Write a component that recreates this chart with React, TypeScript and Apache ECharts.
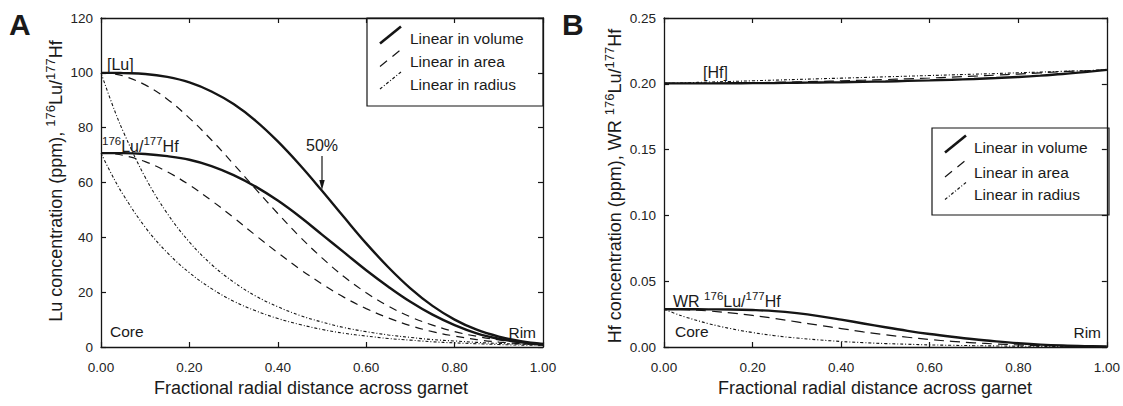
import React, { useEffect, useRef } from "react";
import * as echarts from "echarts";

// Fractional radial distance (shared x positions)
const t = [0, 0.025, 0.05, 0.1, 0.15, 0.2, 0.25, 0.3, 0.35, 0.4, 0.45, 0.5, 0.55, 0.6, 0.65, 0.7, 0.75, 0.8, 0.85, 0.9, 0.95, 1.0];

// Panel A: Lu concentration (ppm)
const luVolume = [100, 100, 99.9, 99.6, 98.5, 96.5, 93.2, 88.6, 82.5, 75.0, 66.4, 57.0, 47.3, 37.8, 29.1, 21.4, 15.0, 10.0, 6.3, 3.8, 2.1, 1.1];
const luArea = [100, 99.7, 98.9, 95.6, 90.4, 83.5, 75.5, 66.7, 57.6, 48.7, 40.2, 32.5, 25.6, 19.8, 14.9, 11.0, 8.0, 5.6, 3.9, 2.6, 1.7, 1.1];
const luRadius = [100, 88.7, 78.7, 61.9, 48.7, 38.3, 30.1, 23.7, 18.6, 14.7, 11.5, 9.1, 7.1, 5.6, 4.4, 3.5, 2.7, 2.2, 1.7, 1.3, 1.0, 0.8];
// Panel A: 176Lu/177Hf
const ratioVolume = [70.7, 70.7, 70.7, 70.4, 69.6, 68.3, 66.0, 62.7, 58.5, 53.4, 47.5, 41.0, 34.5, 28.0, 22.0, 16.5, 11.8, 8.0, 5.0, 3.0, 1.7, 0.8];
const ratioArea = [70.7, 70.5, 69.9, 67.6, 63.9, 59.1, 53.4, 47.2, 40.7, 34.4, 28.4, 23.0, 18.1, 14.0, 10.6, 7.8, 5.6, 4.0, 2.7, 1.8, 1.2, 0.8];
const ratioRadius = [70.7, 62.7, 55.6, 43.7, 34.4, 27.1, 21.3, 16.7, 13.2, 10.4, 8.2, 6.4, 5.0, 4.0, 3.1, 2.5, 1.9, 1.5, 1.2, 0.9, 0.7, 0.6];

// Panel B: Hf concentration (ppm)
const hfVolume = [0.2003, 0.2003, 0.2003, 0.2003, 0.2004, 0.2005, 0.2006, 0.2008, 0.201, 0.2012, 0.2015, 0.2018, 0.2022, 0.2026, 0.2031, 0.2037, 0.2044, 0.2052, 0.2062, 0.2074, 0.2089, 0.2106];
const hfArea = [0.2003, 0.2003, 0.2003, 0.2004, 0.2006, 0.2008, 0.2011, 0.2014, 0.2018, 0.2022, 0.2027, 0.2032, 0.2038, 0.2044, 0.2051, 0.2058, 0.2066, 0.2074, 0.2083, 0.2092, 0.2099, 0.2106];
const hfRadius = [0.2003, 0.2005, 0.2008, 0.2013, 0.2018, 0.2023, 0.2028, 0.2033, 0.2038, 0.2043, 0.2048, 0.2053, 0.2058, 0.2063, 0.2068, 0.2073, 0.2078, 0.2084, 0.2089, 0.2095, 0.21, 0.2106];
// Panel B: WR 176Lu/177Hf
const wrVolume = [0.0287, 0.0287, 0.0287, 0.0286, 0.0285, 0.0281, 0.0273, 0.0257, 0.0235, 0.0208, 0.0179, 0.015, 0.0123, 0.0099, 0.0078, 0.0059, 0.0043, 0.0029, 0.0018, 0.0011, 0.0007, 0.0005];
const wrArea = [0.0287, 0.0286, 0.0284, 0.0274, 0.0259, 0.024, 0.0217, 0.0191, 0.0165, 0.014, 0.0115, 0.0093, 0.0074, 0.0057, 0.0043, 0.0032, 0.0023, 0.0016, 0.0011, 0.0008, 0.0005, 0.0003];
const wrRadius = [0.0287, 0.0255, 0.0226, 0.0178, 0.014, 0.011, 0.0086, 0.0068, 0.0054, 0.0042, 0.0033, 0.0026, 0.0021, 0.0016, 0.0013, 0.001, 0.0008, 0.0006, 0.0005, 0.0004, 0.0003, 0.0002];

const legendLabels = ["Linear in volume", "Linear in area", "Linear in radius"];
const xTitle = "Fractional radial distance across garnet";

const FONT = '"Liberation Sans", Arial, Helvetica, sans-serif';
const INK = "#151515";

const STYLE_VOLUME = { width: 2.4, type: "solid" as any };
const STYLE_AREA = { width: 1.2, type: [8, 6] as any };
const STYLE_RADIUS = { width: 1.1, type: [3, 2, 1, 2] as any };

function pairs(arr: number[]) {
  return t.map((x, i) => [x, arr[i]]);
}

function lineSeries(arr: number[], st: any, xi: number, yi: number) {
  return {
    type: "line",
    xAxisIndex: xi,
    yAxisIndex: yi,
    data: pairs(arr),
    showSymbol: false,
    symbol: "none",
    smooth: 0.4,
    lineStyle: { color: INK, width: st.width, type: st.type },
    z: 3,
  };
}

function axisBase(pos: string, gridIndex: number, min: number, max: number, interval: number, labels: boolean, fmt?: (v: number) => string) {
  return {
    type: "value",
    gridIndex,
    position: pos,
    min,
    max,
    interval,
    axisLine: { show: true, onZero: false, lineStyle: { color: INK, width: 1.3 } },
    axisTick: { show: true, inside: true, length: 5, lineStyle: { color: INK, width: 1.2 } },
    axisLabel: {
      show: labels,
      fontSize: 13.5,
      fontFamily: FONT,
      color: "#222",
      margin: pos === "bottom" ? 13 : 8,
      formatter: fmt,
    },
    splitLine: { show: false },
  };
}

const RICH = {
  m: { fontSize: 16, fontFamily: FONT, fill: "#1a1a1a", lineHeight: 22 },
  s: { fontSize: 11.5, fontFamily: FONT, fill: "#1a1a1a", lineHeight: 22, verticalAlign: "top" },
};
const RICH_T = {
  m: { fontSize: 18, fontFamily: FONT, fill: "#1a1a1a", lineHeight: 24 },
  s: { fontSize: 13, fontFamily: FONT, fill: "#1a1a1a", lineHeight: 24, verticalAlign: "top" },
};

function text(x: number, y: number, s: string, size: number, align = "left", extra: any = {}) {
  return {
    type: "text",
    x,
    y,
    z: 10,
    style: {
      text: s,
      fontSize: size,
      fontFamily: FONT,
      fill: "#1a1a1a",
      textAlign: align,
      textVerticalAlign: "middle",
      ...extra,
    },
  };
}

function richText(x: number, y: number, s: string, rich: any, align = "left", rotation = 0) {
  return {
    type: "text",
    x,
    y,
    rotation,
    z: 10,
    style: {
      text: s,
      rich,
      fontFamily: FONT,
      fontSize: 16,
      fill: "#1a1a1a",
      textAlign: align,
      textVerticalAlign: "middle",
    },
  };
}

function legend(box: { x: number; y: number; w: number; h: number }, rows: number[], sx1: number, sx2: number, tx: number) {
  const styles = [STYLE_VOLUME, STYLE_AREA, STYLE_RADIUS];
  const els: any[] = [
    {
      type: "rect",
      z: 5,
      shape: { x: box.x, y: box.y, width: box.w, height: box.h },
      style: { fill: "none", stroke: INK, lineWidth: 1.2 },
    },
  ];
  rows.forEach((ry, i) => {
    els.push({
      type: "line",
      z: 6,
      shape: { x1: sx1, y1: ry + 5, x2: sx2, y2: ry - 12 },
      style: {
        stroke: INK,
        lineWidth: i === 0 ? 2.6 : 1.2,
        lineDash: i === 0 ? null : i === 1 ? [9, 7] : [3, 2, 1, 2],
      },
    });
    els.push(text(tx, ry, legendLabels[i], 15.5));
  });
  return els;
}

export default function App() {
  const ref = useRef<HTMLDivElement>(null);
  useEffect(() => {
    if (!ref.current) return;
    const chart = echarts.init(ref.current, null, { renderer: "svg" });
    const f2 = (v: number) => v.toFixed(2);
    const option: any = {
      animation: false,
      backgroundColor: "#ffffff",
      grid: [
        { left: 101, top: 18, width: 442, height: 329 },
        { left: 664, top: 18, width: 445, height: 329 },
      ],
      xAxis: [
        axisBase("bottom", 0, 0, 1, 0.2, true, f2),
        axisBase("top", 0, 0, 1, 0.2, false),
        axisBase("bottom", 1, 0, 1, 0.2, true, f2),
        axisBase("top", 1, 0, 1, 0.2, false),
      ],
      yAxis: [
        axisBase("left", 0, 0, 120, 20, true),
        axisBase("right", 0, 0, 120, 20, false),
        axisBase("left", 1, 0, 0.25, 0.05, true, f2),
        axisBase("right", 1, 0, 0.25, 0.05, false),
      ],
      series: [
        lineSeries(luVolume, STYLE_VOLUME, 0, 0),
        lineSeries(luArea, STYLE_AREA, 0, 0),
        lineSeries(luRadius, STYLE_RADIUS, 0, 0),
        lineSeries(ratioVolume, STYLE_VOLUME, 0, 0),
        lineSeries(ratioArea, STYLE_AREA, 0, 0),
        lineSeries(ratioRadius, STYLE_RADIUS, 0, 0),
        lineSeries(hfVolume, STYLE_VOLUME, 2, 2),
        lineSeries(hfArea, { width: 1.2, type: [10, 6] }, 2, 2),
        lineSeries(hfRadius, STYLE_RADIUS, 2, 2),
        lineSeries(wrVolume, STYLE_VOLUME, 2, 2),
        lineSeries(wrArea, { width: 1.2, type: [10, 6] }, 2, 2),
        lineSeries(wrRadius, STYLE_RADIUS, 2, 2),
      ],
      graphic: [
        // panel letters
        text(9, 24, "A", 30, "left", { fontWeight: "bold" }),
        text(562, 24, "B", 30, "left", { fontWeight: "bold" }),
        // axis titles
        text(311, 388, xTitle, 18, "center"),
        text(875, 388, xTitle, 18, "center"),
        richText(56, 181, "{m|Lu concentration (ppm), }{s|176}{m|Lu/}{s|177}{m|Hf}", RICH_T, "center", Math.PI / 2),
        richText(615, 186, "{m|Hf concentration (ppm), WR }{s|176}{m|Lu/}{s|177}{m|Hf}", RICH_T, "center", Math.PI / 2),
        // panel A annotations
        text(107, 64, "[Lu]", 16),
        richText(102, 146, "{s|176}{m|Lu/}{s|177}{m|Hf}", RICH),
        text(322, 145, "50%", 16, "center"),
        { type: "line", z: 10, shape: { x1: 322, y1: 156, x2: 322, y2: 182 }, style: { stroke: INK, lineWidth: 1.2 } },
        { type: "polygon", z: 10, shape: { points: [[319.3, 180], [324.7, 180], [322, 190]] }, style: { fill: INK } },
        text(110, 331, "Core", 15.5),
        text(536, 332, "Rim", 15.5, "right"),
        // panel B annotations
        text(703, 72, "[Hf]", 16),
        richText(673, 301, "{m|WR }{s|176}{m|Lu/}{s|177}{m|Hf}", RICH),
        text(675, 331, "Core", 15.5),
        text(1101, 332, "Rim", 15.5, "right"),
        // legends
        ...legend({ x: 367, y: 18, w: 176, h: 88 }, [38.5, 61.5, 84], 380, 401, 410),
        ...legend({ x: 932, y: 128, w: 177, h: 87 }, [147.5, 172, 194.5], 945, 966, 974),
      ],
    };
    chart.setOption(option);
    return () => chart.dispose();
  }, []);
  return (
    <div
      ref={ref}
      style={{ position: "absolute", left: 0, top: 0, width: 1123, height: 406, background: "#fff" }}
    />
  );
}
